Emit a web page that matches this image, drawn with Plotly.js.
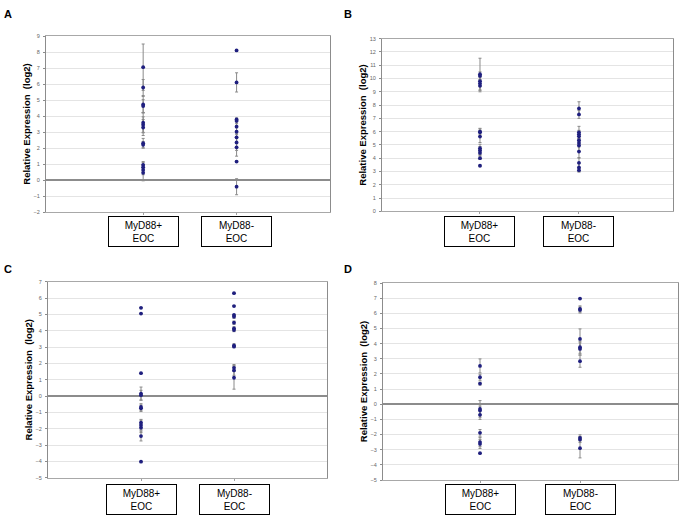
<!DOCTYPE html>
<html>
<head>
<meta charset="utf-8">
<script src="https://cdn.plot.ly/plotly-3.0.1.min.js"></script>
<style>html,body{margin:0;padding:0;background:#fff;}#chart{width:686px;height:518px;}</style>
</head>
<body>
<div id="chart"></div>
<script>
// ---- data ----
const groups = ['MyD88+ EOC', 'MyD88- EOC'];
const groupLabels = ['MyD88+<br>EOC', 'MyD88-<br>EOC'];
const panelLetters = ['A', 'B', 'C', 'D'];
const yTitle = 'Relative Expression  (log2)';

const aPosVals = [7.05, 5.78, 4.72, 4.62, 3.58, 3.45, 3.28, 2.3, 2.2, 0.95, 0.8, 0.63, 0.45];
const aPosErr  = [1.45, 0.5, 0.5, 0.4, 0.6, 0.5, 0.5, 0.3, 0.2, 0.2, 0.3, 0.3, 0.5];
const aNegVals = [8.1, 6.1, 3.78, 3.69, 3.33, 3.02, 2.67, 2.35, 2.04, 1.15, -0.42];
const aNegErr  = [0.05, 0.6, 0.1, 0.15, 0.4, 0.4, 0.4, 0.5, 0.55, 0.05, 0.5];

const bPosVals = [10.33, 10.2, 9.8, 9.62, 9.45, 6.0, 5.95, 5.63, 4.75, 4.58, 4.4, 4.0, 3.43];
const bPosErr  = [1.2, 0.3, 0.4, 0.5, 0.45, 0.2, 0.3, 0.45, 0.3, 0.3, 0.2, 0.1, 0.05];
const bNegVals = [7.75, 7.3, 5.95, 5.8, 5.65, 5.35, 5.15, 4.95, 4.5, 3.65, 3.3, 3.1];
const bNegErr  = [0.5, 0.3, 0.45, 0.3, 0.4, 0.3, 0.3, 0.4, 0.5, 0.4, 0.3, 0.15];

const cPosVals = [5.4, 5.05, 1.4, 0.15, 0.05, -0.67, -0.75, -1.63, -1.78, -1.94, -2.45, -4.02];
const cPosErr  = [0.02, 0.02, 0.02, 0.4, 0.3, 0.2, 0.2, 0.2, 0.3, 0.3, 0.3, 0.02];
const cNegVals = [6.3, 5.51, 4.96, 4.86, 4.49, 4.14, 4.04, 3.1, 3.02, 1.73, 1.57, 1.12];
const cNegErr  = [0.02, 0.02, 0.02, 0.1, 0.1, 0.1, 0.1, 0.1, 0.02, 0.2, 0.3, 0.7];

const dPosVals = [2.53, 1.78, 1.36, -0.31, -0.42, -0.7, -1.89, -2.5, -2.62, -3.23];
const dPosErr  = [0.46, 0.2, 0.1, 0.55, 0.3, 0.3, 0.22, 0.3, 0.3, 0.02];
const dNegVals = [6.97, 6.29, 6.22, 4.31, 3.76, 3.65, 2.84, -2.22, -2.33, -2.9];
const dNegErr  = [0.02, 0.2, 0.2, 0.66, 0.4, 0.4, 0.4, 0.2, 0.2, 0.64];

const yRanges = [[-2, 9], [0, 13], [-5, 7], [-5, 8]];

// ---- layout geometry (pixels) ----
const W = 686, H = 518;
const panels = [
  {pos: [aPosVals, aPosErr], neg: [aNegVals, aNegErr], box: [46, 330, 36, 212], xr: [-1.04, 2.0], lab: [8, 14], boxY: 231.5},
  {pos: [bPosVals, bPosErr], neg: [bNegVals, bNegErr], box: [382, 673, 38.7, 211.3], xr: [-0.99, 1.95], lab: [348, 14], boxY: 231.5},
  {pos: [cPosVals, cPosErr], neg: [cNegVals, cNegErr], box: [48, 327, 281.7, 477.7], xr: [-1.0, 2.0], lab: [8, 269], boxY: 499.5},
  {pos: [dPosVals, dPosErr], neg: [dNegVals, dNegErr], box: [383, 678, 283, 480], xr: [-0.97, 1.98], lab: [348, 269], boxY: 499.5}
];

const FONT = 'Liberation Sans, Arial, sans-serif';
const data = [];
const layout = {
  width: W, height: H,
  margin: {l: 0, r: 0, t: 0, b: 0},
  paper_bgcolor: '#fff', plot_bgcolor: '#fff',
  showlegend: false,
  font: {family: FONT, color: '#000'},
  annotations: []
};

panels.forEach((p, i) => {
  const n = i === 0 ? '' : String(i + 1);
  const xa = 'x' + n, ya = 'y' + n;
  [p.pos, p.neg].forEach((s, g) => {
    data.push({
      type: 'scatter', mode: 'markers',
      x: s[0].map(() => groups[g]), y: s[0],
      xaxis: xa, yaxis: ya,
      marker: {color: '#1f1f7f', size: 3.8, symbol: 'circle'},
      error_y: {type: 'data', array: s[1], visible: true, color: '#8a8a8a', thickness: 1, width: 1.5},
      hoverinfo: 'y'
    });
  });
  const [x0, x1, yt, yb] = p.box;
  layout['xaxis' + n] = {
    domain: [x0 / W, x1 / W], anchor: ya, type: 'category',
    categoryorder: 'array', categoryarray: groups,
    range: p.xr, showticklabels: false, showgrid: false, zeroline: false,
    showline: true, linecolor: '#a8a8a8', linewidth: 1, mirror: true,
    ticks: 'outside', ticklen: 2, tickcolor: '#a0a0a0', fixedrange: true
  };
  layout['yaxis' + n] = {
    domain: [1 - yb / H, 1 - yt / H], anchor: xa,
    range: yRanges[i], dtick: 1, tick0: 0,
    showgrid: true, gridcolor: '#e4e4e4', gridwidth: 1,
    zeroline: true, zerolinecolor: '#8c8c8c', zerolinewidth: 1.5,
    showline: true, linecolor: '#8c8c8c', linewidth: 1, mirror: true,
    ticks: 'outside', ticklen: 2, tickcolor: '#8c8c8c',
    tickfont: {family: FONT, size: 5.5, color: '#666'},
    ticklabelstandoff: 2,
    title: {text: yTitle, font: {family: FONT, size: 9.5, color: '#000', weight: 'bold'}, standoff: 1},
    fixedrange: true
  };
  layout.annotations.push({
    xref: 'paper', yref: 'paper', x: p.lab[0] / W, y: 1 - p.lab[1] / H,
    xanchor: 'center', yanchor: 'middle', showarrow: false,
    text: '<b>' + panelLetters[i] + '</b>', font: {family: FONT, size: 11, color: '#000'}
  });
  groupLabels.forEach((t, g) => {
    layout.annotations.push({
      xref: xa, yref: 'paper', x: g, y: 1 - p.boxY / H,
      xanchor: 'center', yanchor: 'middle', showarrow: false,
      text: t, width: 69, height: 29, borderpad: 0, borderwidth: 1, bordercolor: '#000',
      bgcolor: '#fff', align: 'center', valign: 'middle',
      font: {family: FONT, size: 10, color: '#000'}
    });
  });
});

Plotly.newPlot('chart', data, layout, {displayModeBar: false, staticPlot: true});
</script>
</body>
</html>
